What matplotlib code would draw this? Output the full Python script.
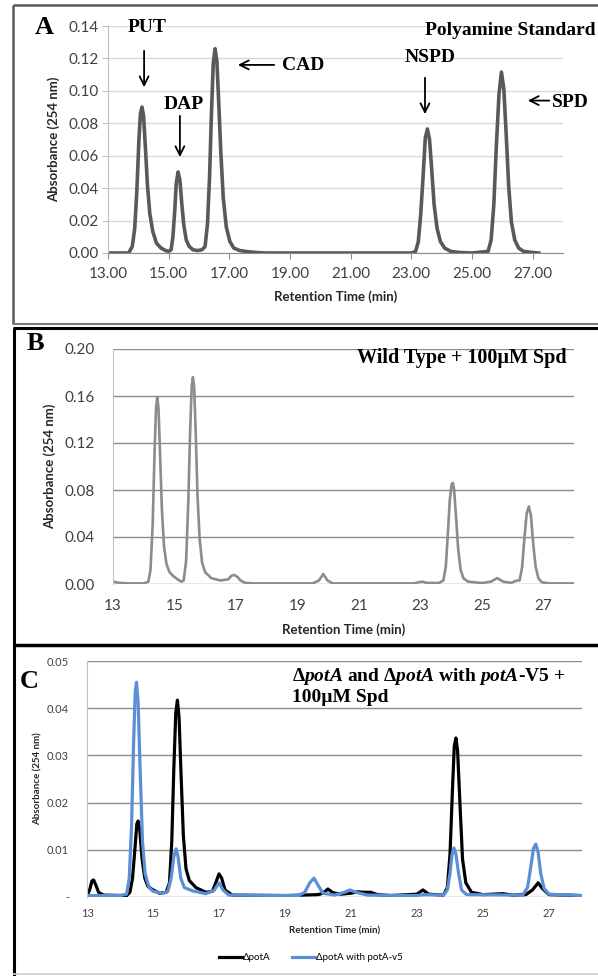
import matplotlib
matplotlib.use("Agg")
import matplotlib.pyplot as plt
from matplotlib.lines import Line2D

W, H = 598, 976
plt.rcParams['font.family'] = ['Lato', 'DejaVu Sans']
plt.rcParams['mathtext.fontset'] = 'custom'
plt.rcParams['mathtext.rm'] = 'Liberation Serif:bold'
plt.rcParams['mathtext.it'] = 'Liberation Serif:italic:bold'
plt.rcParams['mathtext.bf'] = 'Liberation Serif:bold'

# --- Panel A: polyamine standard
a_time = [13.0, 13.68, 13.80, 13.88, 13.95, 14.02, 14.07, 14.12, 14.17, 14.23, 14.30, 14.38, 14.48, 14.60,
          14.75, 14.9, 15.0,
          15.08, 15.14, 15.20, 15.25, 15.31, 15.37, 15.43, 15.50, 15.58, 15.68, 15.80, 15.95, 16.1,
          16.20, 16.28, 16.35, 16.41, 16.47, 16.53, 16.59, 16.65, 16.72, 16.80, 16.90, 17.02, 17.15, 17.35,
          17.6, 17.9, 18.2, 20.0, 23.0,
          23.14, 23.23, 23.31, 23.39, 23.46, 23.53, 23.60, 23.67, 23.75, 23.85, 23.96, 24.10, 24.3, 24.6, 25.0,
          25.53, 25.63, 25.72, 25.80, 25.89, 25.97, 26.05, 26.13, 26.21, 26.30, 26.41, 26.54, 26.7, 27.0, 27.2]
a_abs = [0, 0, 0.004, 0.015, 0.038, 0.070, 0.086, 0.090, 0.085, 0.066, 0.042, 0.024, 0.013, 0.006,
         0.003, 0.0015, 0.001,
         0.002, 0.010, 0.026, 0.043, 0.050, 0.045, 0.031, 0.017, 0.008, 0.004, 0.002, 0.0015, 0.002,
         0.004, 0.018, 0.048, 0.086, 0.117, 0.126, 0.118, 0.093, 0.062, 0.034, 0.016, 0.007, 0.003, 0.0015,
         0.0008, 0.0003, 0, 0, 0,
         0.001, 0.007, 0.024, 0.048, 0.071, 0.0765, 0.070, 0.052, 0.030, 0.015, 0.007, 0.003, 0.001, 0.0003, 0,
         0.001, 0.008, 0.030, 0.065, 0.098, 0.1116, 0.101, 0.072, 0.041, 0.019, 0.008, 0.003, 0.001, 0.0003, 0]
a_ticks = [13, 15, 17, 19, 21, 23, 25, 27]
a_yticks = [0.00, 0.02, 0.04, 0.06, 0.08, 0.10, 0.12, 0.14]

# --- Panel B: wild type + 100uM Spd
b_time = [13.0, 13.2, 13.5, 14.0, 14.15, 14.22, 14.29, 14.35, 14.40, 14.44, 14.48, 14.53, 14.59, 14.66,
          14.74, 14.84, 14.95, 15.1, 15.22, 15.3, 15.38, 15.45, 15.51, 15.56, 15.60, 15.64, 15.69, 15.75,
          15.82, 15.90, 16.0, 16.2, 16.5, 16.75, 16.85, 16.95, 17.05, 17.15, 17.3, 17.6, 18.0, 19.5, 19.7,
          19.84, 19.98, 20.15, 22.8, 22.95, 23.06, 23.2, 23.6, 23.75, 23.83, 23.90, 23.96, 24.02, 24.06,
          24.10, 24.16, 24.23, 24.31, 24.40, 24.55, 25.0, 25.3, 25.5, 25.7, 25.95, 26.15, 26.23, 26.31,
          26.38, 26.46, 26.53, 26.60, 26.67, 26.75, 26.84, 26.95, 27.2, 28.0]
b_abs = [0.002, 0.001, 0.0005, 0.0005, 0.002, 0.012, 0.050, 0.110, 0.150, 0.159, 0.150, 0.112, 0.064, 0.032,
         0.017, 0.010, 0.007, 0.004, 0.002, 0.003, 0.020, 0.070, 0.130, 0.168, 0.176, 0.168, 0.130, 0.075,
         0.038, 0.018, 0.010, 0.005, 0.003, 0.004, 0.007, 0.0077, 0.006, 0.003, 0.001, 0.0005, 0.0005, 0.0005, 0.003,
         0.0085, 0.003, 0.0005, 0.0005, 0.0015, 0.002, 0.001, 0.0008, 0.003, 0.015, 0.045, 0.072, 0.085, 0.086,
         0.080, 0.058, 0.030, 0.012, 0.005, 0.002, 0.0008, 0.002, 0.005, 0.002, 0.001, 0.003, 0.003, 0.014,
         0.037, 0.060, 0.066, 0.058, 0.035, 0.015, 0.005, 0.0015, 0.0005, 0.0005]
b_ticks = [13, 15, 17, 19, 21, 23, 25, 27]
b_yticks = [0.00, 0.04, 0.08, 0.12, 0.16, 0.20]

# --- Panel C: potA deletion vs complemented
c1_time = [13.0, 13.08, 13.15, 13.2, 13.27, 13.35, 13.5, 14.2, 14.3, 14.38, 14.45, 14.51, 14.55, 14.60,
           14.67, 14.75, 14.85, 15.0, 15.2, 15.4, 15.5, 15.57, 15.63, 15.69, 15.74, 15.79, 15.85, 15.92,
           16.0, 16.1, 16.3, 16.6, 16.8, 16.9, 17.0, 17.08, 17.18, 17.4, 19.0, 20.0, 20.15, 20.3, 20.45,
           20.7, 21.0, 21.2, 21.4, 21.6, 21.8, 22.2, 23.0, 23.18, 23.35, 23.8, 23.92, 24.0, 24.07, 24.13,
           24.18, 24.23, 24.30, 24.38, 24.48, 24.65, 25.0, 25.6, 25.9, 26.3, 26.5, 26.67, 26.8, 27.0, 28.0]
c1_abs = [0.0003, 0.0015, 0.0034, 0.0036, 0.0025, 0.001, 0.0004, 0.0003, 0.001, 0.004, 0.010, 0.0155, 0.0161, 0.014,
          0.008, 0.004, 0.0022, 0.0015, 0.0008, 0.001, 0.003, 0.012, 0.027, 0.039, 0.0417, 0.038, 0.026, 0.013,
          0.006, 0.0035, 0.002, 0.001, 0.0012, 0.003, 0.0049, 0.004, 0.0015, 0.0004, 0.0003, 0.0005, 0.0008, 0.0017, 0.0009,
          0.0006, 0.0008, 0.0011, 0.0010, 0.0010, 0.0005, 0.0003, 0.0006, 0.0015, 0.0006, 0.0004, 0.002, 0.009, 0.022, 0.032,
          0.0337, 0.031, 0.020, 0.008, 0.003, 0.001, 0.0005, 0.0007, 0.0004, 0.0005, 0.0015, 0.003, 0.0018, 0.0005, 0.0003]
c2_time = [13.0, 14.0, 14.2, 14.28, 14.35, 14.41, 14.46, 14.50, 14.55, 14.61, 14.68, 14.76, 14.88, 15.0,
           15.3, 15.45, 15.55, 15.63, 15.7, 15.76, 15.84, 15.95, 16.2, 16.6, 16.85, 17.0, 17.12, 17.3, 19.4,
           19.6, 19.75, 19.88, 20.0, 20.15, 20.5, 20.8, 20.97, 21.15, 21.5, 23.0, 23.2, 23.8, 23.92, 24.0,
           24.06, 24.12, 24.18, 24.26, 24.35, 24.5, 26.2, 26.35, 26.45, 26.53, 26.6, 26.67, 26.75, 26.85,
           27.0, 28.0]
c2_abs = [0.0003, 0.0003, 0.0006, 0.004, 0.015, 0.032, 0.0435, 0.0455, 0.041, 0.027, 0.012, 0.005, 0.002, 0.0012,
          0.0008, 0.0012, 0.004, 0.0085, 0.0102, 0.0085, 0.004, 0.002, 0.0013, 0.0007, 0.0014, 0.003, 0.0015, 0.0004, 0.0003,
          0.001, 0.003, 0.004, 0.0025, 0.0008, 0.0004, 0.001, 0.0015, 0.001, 0.0004, 0.0003, 0.0005, 0.0004, 0.0015, 0.005,
          0.009, 0.0104, 0.009, 0.005, 0.0015, 0.0005, 0.0004, 0.002, 0.0065, 0.0103, 0.0112, 0.0095, 0.005, 0.0018,
          0.0006, 0.0003]
c_ticks = [13, 15, 17, 19, 21, 23, 25, 27]
c_yticks = [0.00, 0.01, 0.02, 0.03, 0.04, 0.05]
c_ylabels = ['-', '0.01', '0.02', '0.03', '0.04', '0.05']
c_names = ['\u0394potA', '\u0394potA with potA-v5']


def px_axes(left, top, right, bottom):
    return fig.add_axes([left / W, 1 - bottom / H, (right - left) / W, (bottom - top) / H])


def fig_line(x0, y0, x1, y1, color, lw):
    fig.add_artist(Line2D([x0 / W, x1 / W], [1 - y0 / H, 1 - y1 / H], transform=fig.transFigure,
                          color=color, lw=lw, solid_capstyle='butt'))


def style(ax, grid_color, fs):
    ax.set_xlim(13, 28)
    for s in ['top', 'right']:
        ax.spines[s].set_visible(False)
    ax.spines['left'].set_color('#bfbfbf')
    ax.spines['bottom'].set_color('#8c8c8c')
    ax.grid(axis='y', color=grid_color, lw=1)
    ax.set_axisbelow(True)
    ax.tick_params(labelsize=fs, colors='#404040', length=0)


fig = plt.figure(figsize=(W / 100, H / 100), dpi=100)

serif = 'Liberation Serif'

# panel borders
fig_line(13, 5, 600, 5, '#5a5a5a', 1.8)
fig_line(13, 5, 13, 324, '#5a5a5a', 1.8)
fig_line(13, 324, 600, 324, '#7a7a7a', 1.5)
fig_line(13, 328, 600, 328, 'black', 2.2)
fig_line(14, 328, 14, 645, 'black', 2.2)
fig_line(13, 645, 600, 645, 'black', 2.5)
fig_line(14, 645, 14, 976, 'black', 2.2)
fig_line(13, 974, 600, 974, '#d0d0d0', 1.2)

# ---- A
axA = px_axes(108, 26, 563, 253)
axA.plot(a_time, a_abs, color='#595959', lw=2.6, solid_joinstyle='round')
style(axA, '#d9d9d9', 11)
axA.set_ylim(0, 0.14)
axA.set_yticks(a_yticks)
axA.set_yticklabels([f'{v:.2f}' for v in a_yticks])
axA.set_xticks(a_ticks)
axA.set_xticklabels([f'{v:.2f}' for v in a_ticks])
axA.tick_params(axis='x', length=4, color='#8c8c8c', direction='out', pad=6)
axA.tick_params(axis='y', length=4, color='#bfbfbf', direction='out', pad=3)
axA.set_ylabel('Absorbance (254 nm)', fontsize=9.5, fontweight='bold', color='#262626', labelpad=6)
axA.set_xlabel('Retention Time (min)', fontsize=9.5, fontweight='bold', color='#262626', labelpad=7)

lab = dict(family=serif, fontweight='bold', fontsize=14, va='center', clip_on=False)
arr = dict(arrowstyle='->', lw=1.3, color='black', mutation_scale=16)
axA.text(14.29, 0.1393, 'PUT', ha='center', **lab)
axA.annotate('', xy=(14.19, 0.1005), xytext=(14.19, 0.1264), arrowprops=arr)
axA.text(15.5, 0.0913, 'DAP', ha='center', **lab)
axA.annotate('', xy=(15.37, 0.0574), xytext=(15.37, 0.0863), arrowprops=arr)
axA.annotate('', xy=(17.19, 0.116), xytext=(18.57, 0.116), arrowprops=arr)
axA.text(18.72, 0.1155, 'CAD', ha='left', **lab)
axA.text(23.62, 0.1203, 'NSPD', ha='center', **lab)
axA.annotate('', xy=(23.45, 0.0839), xytext=(23.45, 0.1098), arrowprops=arr)
axA.annotate('', xy=(26.75, 0.094), xytext=(27.64, 0.094), arrowprops=arr)
axA.text(27.62, 0.0928, 'SPD', ha='left', **lab)
axA.text(23.45, 0.1375, 'Polyamine Standard', ha='left', **lab)
fig.text(35 / W, 1 - 27 / H, 'A', family=serif, fontweight='bold', fontsize=19, va='center')

# ---- B
axB = px_axes(113, 349, 574, 584)
axB.plot(b_time, b_abs, color='#8c8c8c', lw=1.9, solid_joinstyle='round')
style(axB, '#8c8c8c', 11)
axB.spines['bottom'].set_visible(False)
axB.set_ylim(0, 0.20)
axB.set_yticks(b_yticks)
axB.set_yticklabels([f'{v:.2f}' for v in b_yticks])
axB.set_xticks(b_ticks)
axB.tick_params(axis='x', pad=11)
axB.tick_params(axis='y', pad=13)
axB.set_ylabel('Absorbance (254 nm)', fontsize=9.5, fontweight='bold', color='#262626', labelpad=6)
axB.set_xlabel('Retention Time (min)', fontsize=9.5, fontweight='bold', color='#262626', labelpad=7)
fig.text(567 / W, 1 - 358 / H, 'Wild Type + 100\u00b5M Spd', family=serif, fontweight='bold',
         fontsize=14.5, ha='right', va='center')
fig.text(27 / W, 1 - 343 / H, 'B', family=serif, fontweight='bold', fontsize=19, va='center')

# ---- C
axC = px_axes(87, 661, 582, 897)
axC.plot(c1_time, c1_abs, color='black', lw=2.3, solid_joinstyle='round', label=c_names[0])
axC.plot(c2_time, c2_abs, color='#5b8fd8', lw=2.3, solid_joinstyle='round', label=c_names[1])
style(axC, '#8c8c8c', 8)
axC.spines['bottom'].set_visible(False)
axC.set_ylim(0, 0.05)
axC.set_yticks(c_yticks)
axC.set_yticklabels(c_ylabels)
axC.set_xticks(c_ticks)
axC.tick_params(axis='x', pad=8)
axC.tick_params(axis='y', pad=13)
axC.set_ylabel('Absorbance (254 nm)', fontsize=7, fontweight='bold', color='#262626', labelpad=3)
axC.set_xlabel('Retention Time (min)', fontsize=7, fontweight='bold', color='#262626', labelpad=5)
fig.legend(loc='center', bbox_to_anchor=(311 / W, 1 - 958 / H), ncol=2, frameon=False,
           fontsize=7, handlelength=2.4, columnspacing=2.2, handletextpad=0.1)
fig.text(292 / W, 1 - 686 / H,
         '\u0394$\\mathit{potA}$ and \u0394$\\mathit{potA}$ with $\\mathit{potA}$-V5 +\n100\u00b5M Spd',
         family=serif, fontweight='bold', fontsize=14, ha='left', va='center', linespacing=1.1)
fig.text(20 / W, 1 - 682 / H, 'C', family=serif, fontweight='bold', fontsize=19, va='center')

fig.savefig('out.png', dpi=100)
